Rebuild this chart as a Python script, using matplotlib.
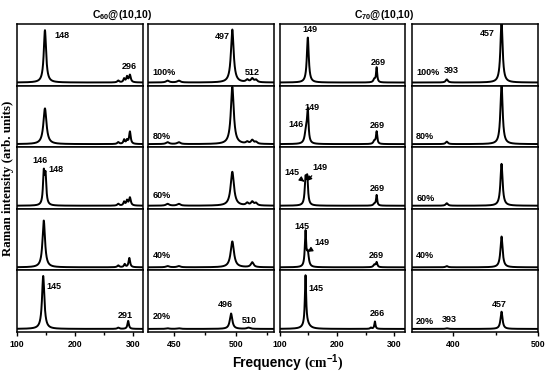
import numpy as np
import matplotlib
matplotlib.use('Agg')
import matplotlib.pyplot as plt

plt.rcParams['font.family'] = 'Liberation Sans'
plt.rcParams['font.weight'] = 'bold'
plt.rcParams['mathtext.fontset'] = 'custom'
plt.rcParams['mathtext.rm'] = 'Liberation Sans:bold'
plt.rcParams['mathtext.bf'] = 'Liberation Sans:bold'
plt.rcParams['mathtext.it'] = 'Liberation Sans:bold'

# fractions of C60 / C70 filling, one row each (top to bottom)
fractions = ['100%', '80%', '60%', '40%', '20%']

# peaks: (position cm-1, height in row units, half width)
c60_low = [
    [(148, 0.85, 2.4), (274, 0.03, 2), (284, 0.06, 1.5), (289, 0.09, 1.5), (294, 0.12, 1.8)],
    [(148, 0.58, 3.2), (274, 0.03, 2), (284, 0.07, 1.5), (289, 0.06, 1.5), (294, 0.20, 1.6)],
    [(146, 0.50, 1.6), (149, 0.45, 1.6), (274, 0.03, 2), (284, 0.06, 1.5), (289, 0.08, 1.5), (294, 0.13, 1.8)],
    [(146, 0.76, 2.6), (274, 0.03, 2), (285, 0.05, 1.5), (293, 0.15, 1.6)],
    [(145, 0.86, 2.4), (274, 0.02, 2), (291, 0.13, 1.5)],
]
c60_high = [
    [(445, 0.03, 1.5), (454, 0.03, 1.5), (497, 0.86, 1.3), (509, 0.04, 1.2), (513, 0.06, 1.2), (516, 0.04, 1.2)],
    [(445, 0.03, 1.5), (454, 0.03, 1.5), (497, 0.93, 1.4), (509, 0.03, 1.2), (513, 0.06, 1.2), (516, 0.03, 1.2)],
    [(445, 0.03, 1.5), (454, 0.03, 1.5), (497, 0.55, 1.6), (509, 0.04, 1.2), (513, 0.06, 1.2), (516, 0.04, 1.2)],
    [(445, 0.02, 1.5), (454, 0.02, 1.5), (497, 0.42, 1.6), (513, 0.08, 1.3)],
    [(445, 0.01, 1.5), (454, 0.01, 1.5), (496, 0.25, 1.2), (510, 0.02, 1.5)],
]
c70_low = [
    [(149, 0.73, 2.0), (265, 0.05, 2), (269, 0.24, 1.2)],
    [(146, 0.22, 2.5), (149, 0.50, 1.5), (265, 0.05, 2), (269, 0.20, 1.3)],
    [(145, 0.40, 1.6), (148, 0.42, 1.6), (265, 0.03, 2), (269, 0.17, 1.2)],
    [(145, 0.56, 1.4), (149, 0.22, 2.0), (265, 0.04, 2), (269, 0.08, 1.5)],
    [(145, 0.80, 1.3), (147, 0.08, 6.0), (259, 0.02, 1.5), (266, 0.12, 1.2)],
]
c70_high = [
    [(393, 0.05, 1.5), (457, 1.00, 1.5)],
    [(393, 0.04, 1.5), (457, 1.00, 1.5)],
    [(393, 0.04, 1.5), (457, 0.68, 1.5)],
    [(393, 0.02, 1.5), (457, 0.50, 1.5)],
    [(393, 0.01, 1.5), (457, 0.28, 1.4)],
]

panels = [c60_low, c60_high, c70_low, c70_high]
xlims = [(100, 317), (429.5, 530.5), (100, 319), (352, 500)]
majors = [[100, 200, 300], [450, 500], [100, 200, 300], [400, 500]]
minors = [[150, 250], [475, 525], [150, 250], [450]]

# peak labels: (panel, row, text, x in cm-1, y in row units)
labels = [
    (0, 0, '148', 165, 0.82, 'left'), (0, 0, '296', 293, 0.31, 'center'),
    (0, 2, '146', 139, 0.78, 'center'), (0, 2, '148', 167, 0.64, 'center'),
    (0, 4, '145', 164, 0.74, 'center'), (0, 4, '291', 286, 0.26, 'center'),
    (1, 0, '497', 489, 0.80, 'center'), (1, 0, '512', 513, 0.21, 'center'),
    (1, 4, '496', 491.5, 0.45, 'center'), (1, 4, '510', 510.6, 0.18, 'center'),
    (2, 0, '149', 153, 0.91, 'center'), (2, 0, '269', 271.6, 0.38, 'center'),
    (2, 1, '149', 156, 0.65, 'center'), (2, 1, '146', 128, 0.37, 'center'),
    (2, 1, '269', 270, 0.36, 'center'), (2, 2, '269', 270, 0.33, 'center'),
    (2, 3, '145', 139, 0.72, 'center'), (2, 3, '269', 269, 0.25, 'center'),
    (2, 4, '145', 163, 0.70, 'center'), (2, 4, '266', 270.7, 0.30, 'center'),
    (3, 0, '457', 440.7, 0.84, 'center'), (3, 0, '393', 397.8, 0.24, 'center'),
    (3, 4, '457', 454.7, 0.44, 'center'), (3, 4, '393', 396, 0.21, 'center'),
]
# labels with arrows: (panel, row, text, text x, text y, tip x, tip y)
arrows = [
    (2, 2, '145', 121.6, 0.59, 143, 0.44),
    (2, 2, '149', 169.8, 0.67, 147, 0.45),
    (2, 3, '149', 174, 0.45, 148.5, 0.30),
]
pct_pos = {1: [0.22, 0.18, 0.22, 0.25, 0.25], 3: [0.22, 0.17, 0.16, 0.25, 0.17]}

W, H = 550, 377
cols_px = [(17, 143.3), (148.3, 274), (279.7, 405.3), (411.7, 538.3)]
top_px, row_px = 24, 61.6
base = 0.05

fig = plt.figure(figsize=(5.5, 3.77), dpi=100)
axes = {}
for p, rows in enumerate(panels):
    x0, x1 = cols_px[p]
    x = np.linspace(xlims[p][0], xlims[p][1], 5000)
    for r, peaks in enumerate(rows):
        y0 = top_px + row_px * (r + 1)
        ax = fig.add_axes([x0 / W, 1 - y0 / H, (x1 - x0) / W, row_px / H])
        axes[(p, r)] = ax
        y = np.full_like(x, base)
        for c, h, w in peaks:
            y += h * w**2 / ((x - c)**2 + w**2)
        ax.plot(x, y, color='black', lw=1.4)
        ax.set_xlim(*xlims[p])
        ax.set_ylim(0, 1)
        ax.set_yticks([])
        for s in ax.spines.values():
            s.set_linewidth(1.1)
        if r == 4:
            ax.set_xticks(majors[p])
            ax.set_xticks(minors[p], minor=True)
            ax.tick_params(axis='x', which='major', direction='out', length=3, width=1,
                           labelsize=6.3, pad=3)
            ax.tick_params(axis='x', which='minor', direction='out', length=2.5, width=1)
        else:
            ax.set_xticks([])
        if p in pct_pos:
            ax.text(0.035, pct_pos[p][r], fractions[r], transform=ax.transAxes,
                    fontsize=6.5, fontweight='bold', ha='left', va='center')

for p, r, t, xv, yv, ha in labels:
    axes[(p, r)].text(xv, yv, t, fontsize=6.5, fontweight='bold', ha=ha, va='center')

for p, r, t, tx, ty, ax_, ay in arrows:
    axes[(p, r)].annotate(t, xy=(ax_, ay), xytext=(tx, ty), fontsize=6.5, fontweight='bold',
                          ha='center', va='center',
                          arrowprops=dict(arrowstyle='-|>', color='black', lw=0.9,
                                          mutation_scale=7, shrinkA=1, shrinkB=0))

fig.text(122.5 / W, 1 - 18.3 / H, r'C$_{60}$@(10,10)', fontsize=7.5, fontweight='bold',
         ha='center', va='baseline')
fig.text(384 / W, 1 - 18.3 / H, r'C$_{70}$@(10,10)', fontsize=7.5, fontweight='bold',
         ha='center', va='baseline')
fig.text(301 / W, 1 - 363 / H, 'Frequency', fontsize=9.8, fontweight='bold',
         ha='right', va='center')
fig.text(304 / W, 1 - 363 / H, r'(cm$^{-1}$)', fontsize=9.8, fontweight='bold',
         family='Liberation Serif', ha='left', va='center')
fig.text(8 / W, 1 - 178 / H, 'Raman intensity (arb. units)', fontsize=9.3,
         fontweight='bold', family='Liberation Serif', rotation=90,
         ha='center', va='center')

fig.savefig('out.png', dpi=100)
